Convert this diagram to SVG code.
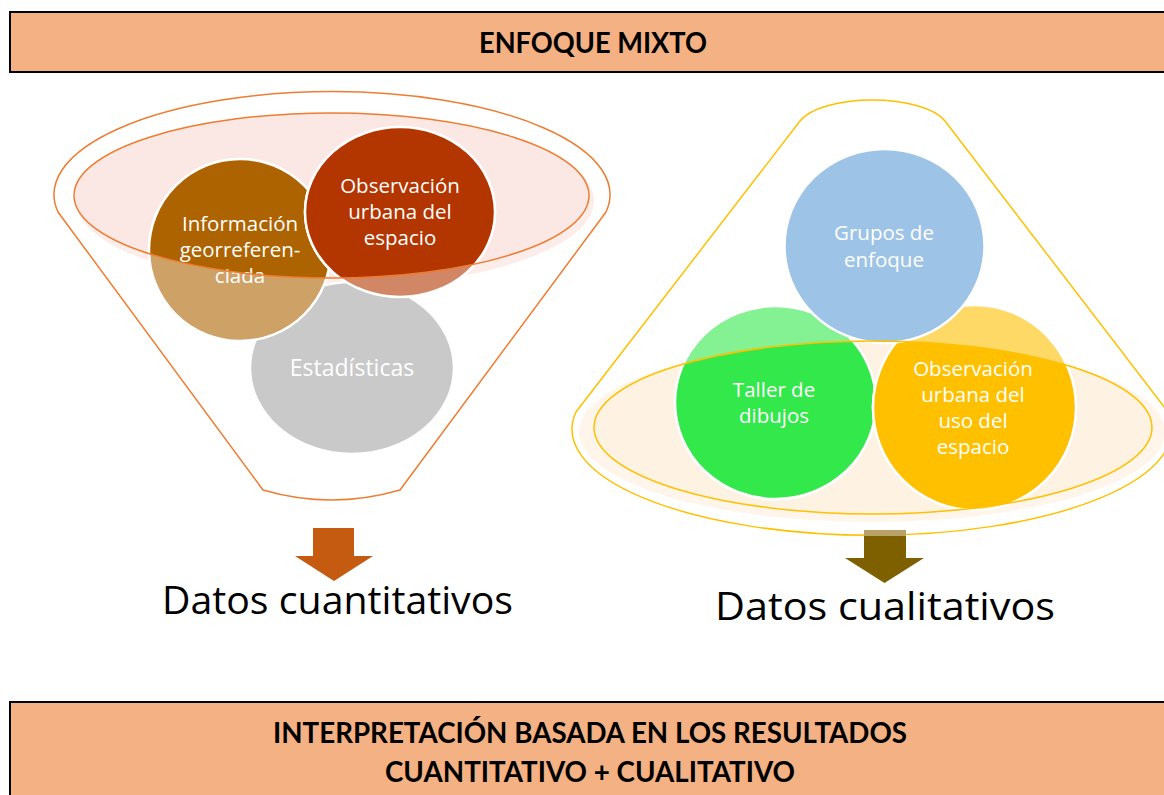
<svg xmlns="http://www.w3.org/2000/svg" width="1164" height="795" viewBox="0 0 1164 795">
<defs>
<style>
.box{fill:#F4B183;stroke:#000;stroke-width:2}
.hdr{font-family:Lato,"Liberation Sans",sans-serif;font-weight:bold;font-size:28px;text-anchor:middle;fill:#000}
.lbl{font-family:"Open Sans","Liberation Sans",sans-serif;font-size:20.5px;text-anchor:middle;fill:#fff}
.big{font-family:"Open Sans","Liberation Sans",sans-serif;font-size:38px;fill:#000}
.circ{stroke:#fff;stroke-width:2.5}
.fl{fill:none;stroke:#ED7D31;stroke-width:1.5}
.fr{fill:none;stroke:#FFC000;stroke-width:1.5}
</style>
<clipPath id="clipL"><ellipse cx="331.5" cy="195.5" rx="257.5" ry="82.5"/></clipPath>
<clipPath id="clipR"><ellipse cx="873" cy="427.5" rx="279" ry="86.5"/></clipPath>
</defs>
<rect width="1164" height="795" fill="#fff"/>

<g id="header">
<rect class="box" x="10" y="12" width="1170" height="60"/>
<text class="hdr" x="593" y="53" textLength="228" lengthAdjust="spacingAndGlyphs">ENFOQUE MIXTO</text>
</g>

<g id="funnel-left">
<path class="fl" d="M58,212 A278,103 0 1 1 606,212 L400,490 Q331.5,510 263,490 Z"/>
<ellipse cx="335" cy="201" rx="259" ry="86" fill="#FCEDEA"/>
<ellipse cx="331.5" cy="195.5" rx="257.5" ry="82.5" fill="#FBE8E4"/>
</g>

<g id="node-estadisticas">
<ellipse class="circ" cx="352" cy="368" rx="102" ry="86" fill="#C9C9C9"/>
<text class="lbl" x="352" y="376" style="font-size:23px">Estadísticas</text>
</g>

<g id="node-informacion">
<circle class="circ" cx="240" cy="250" r="91" fill="#CEA166"/>
<circle class="circ" cx="240" cy="250" r="91" fill="#AD6300" clip-path="url(#clipL)"/>
<text class="lbl" x="240" y="231">Información</text>
<text class="lbl" x="240" y="257">georreferen-</text>
<text class="lbl" x="240" y="283">ciada</text>
</g>

<g id="node-observacion-espacio">
<ellipse class="circ" cx="400" cy="212" rx="95" ry="85" fill="#D18666"/>
<ellipse class="circ" cx="400" cy="212" rx="95" ry="85" fill="#B33500" clip-path="url(#clipL)"/>
<text class="lbl" x="400" y="193">Observación</text>
<text class="lbl" x="400" y="219">urbana del</text>
<text class="lbl" x="400" y="245">espacio</text>
</g>

<g id="funnel-left-rim">
<ellipse class="fl" cx="331.5" cy="195.5" rx="257.5" ry="82.5"/>
</g>

<g id="funnel-right">
<path class="fr" d="M800,121 A76,30 0 0 1 945,121 L1168,412 A300,106 0 1 1 576,412 Z"/>
<ellipse cx="872" cy="432" rx="293" ry="90" fill="#FFF5EA"/>
<ellipse cx="873" cy="427.5" rx="279" ry="86.5" fill="#FEF2E3"/>
</g>

<g id="node-taller">
<ellipse class="circ" cx="775.5" cy="402.5" rx="100.5" ry="96.5" fill="#84F192"/>
<ellipse class="circ" cx="775.5" cy="402.5" rx="100.5" ry="96.5" fill="#32E84A" clip-path="url(#clipR)"/>
<text class="lbl" x="774" y="397">Taller de</text>
<text class="lbl" x="774" y="423">dibujos</text>
</g>

<g id="node-observacion-uso">
<ellipse class="circ" cx="974.5" cy="407.5" rx="101.5" ry="102.5" fill="#FFD966"/>
<ellipse class="circ" cx="974.5" cy="407.5" rx="101.5" ry="102.5" fill="#FFC000" clip-path="url(#clipR)"/>
<text class="lbl" x="973" y="376">Observación</text>
<text class="lbl" x="973" y="402">urbana del</text>
<text class="lbl" x="973" y="428">uso del</text>
<text class="lbl" x="973" y="454">espacio</text>
</g>

<g id="node-grupos">
<ellipse class="circ" cx="884.5" cy="246" rx="100" ry="97" fill="#9DC3E6"/>
<ellipse class="circ" cx="884.5" cy="246" rx="100" ry="97" fill="#5B9BD5" clip-path="url(#clipR)"/>
<text class="lbl" x="884" y="240">Grupos de</text>
<text class="lbl" x="884" y="267">enfoque</text>
</g>

<g id="funnel-right-rim">
<ellipse class="fr" cx="873" cy="427.5" rx="279" ry="86.5"/>
</g>

<g id="connectors">
<path d="M313,528 H354 V556 H373 L334,581 L295,556 H313 Z" fill="#C55A11"/>
<path d="M864,530 H906 V558 H924 L884.5,583 L845,558 H864 Z" fill="#7F6000"/>
<rect x="864" y="530" width="42" height="6" fill="#B8A267"/>
</g>

<g id="label-cuantitativos">
<text class="big" x="162" y="614" textLength="351" lengthAdjust="spacingAndGlyphs">Datos cuantitativos</text>
</g>
<g id="label-cualitativos">
<text class="big" x="715" y="620" textLength="340" lengthAdjust="spacingAndGlyphs">Datos cualitativos</text>
</g>

<g id="footer">
<rect class="box" x="10" y="702" width="1170" height="110"/>
<text class="hdr" x="590" y="743" textLength="634" lengthAdjust="spacingAndGlyphs">INTERPRETACIÓN BASADA EN LOS RESULTADOS</text>
<text class="hdr" x="590" y="782" textLength="410" lengthAdjust="spacingAndGlyphs">CUANTITATIVO + CUALITATIVO</text>
</g>
</svg>
